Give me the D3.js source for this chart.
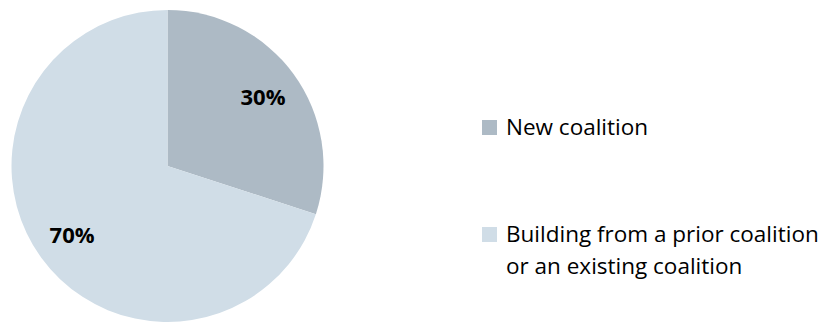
<!DOCTYPE html>
<html>
<head>
<meta charset="utf-8">
<script src="https://cdn.jsdelivr.net/npm/d3@7"></script>
<style>
  html, body { margin: 0; padding: 0; background: #ffffff; }
  svg { display: block; }
</style>
</head>
<body>
<svg id="chart" width="830" height="322"></svg>
<script>
// Coalition origin shares (percent)
const categories = ["New coalition", "Building from a prior coalition or an existing coalition"];
const values = [30, 70];
const legendLines = [["New coalition"], ["Building from a prior coalition", "or an existing coalition"]];
const colors = ["#adbac5", "#d0dde7"];

const svg = d3.select("#chart");
const cx = 167.5, cy = 166, radius = 156;

const color = d3.scaleOrdinal().domain(categories).range(colors);

const pie = d3.pie().sort(null).value(d => d.value);
const data = categories.map((c, i) => ({ category: c, value: values[i] }));
const arcs = pie(data);

const arc = d3.arc().innerRadius(0).outerRadius(radius);
const labelArc = d3.arc().innerRadius(118).outerRadius(118);

const g = svg.append("g").attr("transform", `translate(${cx},${cy})`);

g.selectAll("path.slice")
  .data(arcs)
  .join("path")
  .attr("class", "slice")
  .attr("d", arc)
  .attr("fill", d => color(d.data.category));

g.selectAll("text.pct")
  .data(arcs)
  .join("text")
  .attr("class", "pct")
  .attr("transform", d => `translate(${labelArc.centroid(d)})`)
  .attr("text-anchor", "middle")
  .attr("dy", "0.36em")
  .attr("font-family", "'Open Sans', sans-serif")
  .attr("font-weight", "bold")
  .attr("font-size", 22)
  .attr("fill", "#000")
  .text(d => d.data.value + "%");

// Legend
const legendY = [135, 242];
const legend = svg.append("g");
categories.forEach((c, i) => {
  const item = legend.append("g").attr("transform", `translate(482,${legendY[i]})`);
  item.append("rect")
    .attr("x", 0).attr("y", -15)
    .attr("width", 15).attr("height", 15)
    .attr("fill", color(c));
  const t = item.append("text")
    .attr("x", 24).attr("y", 0)
    .attr("font-family", "'Open Sans', sans-serif")
    .attr("font-size", 22.5)
    .attr("fill", "#000");
  legendLines[i].forEach((line, j) => {
    t.append("tspan").attr("x", 24).attr("y", j * 32).text(line);
  });
});
</script>
</body>
</html>
